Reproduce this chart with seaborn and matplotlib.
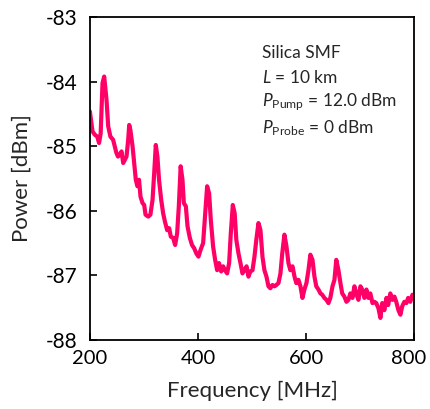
import matplotlib
matplotlib.use("Agg")
import matplotlib.pyplot as plt
import matplotlib.transforms as mtransforms
import seaborn as sns
import pandas as pd

# spectrum
freq_mhz = [200, 204.9, 209, 213.6, 217, 220, 223.4, 226.5, 230.8, 233.9, 238, 243, 246, 249, 252,
            255.5, 258.6, 261.7, 264.7, 267.8, 270.9, 272.8, 275, 279, 282, 285, 288, 291, 293.7,
            297.4, 300.5, 303, 308, 312, 316, 319, 322, 325, 328, 332, 335.6, 339, 343, 346.7,
            349.8, 354, 357.8, 361.5, 364.6, 368, 371.4, 373.9, 377.6, 380.7, 385, 389, 393, 397,
            401, 404.7, 409.6, 413, 417, 420.7, 423.8, 428, 431.8, 435.5, 439, 443, 446.6, 450,
            454, 457.7, 460.8, 464.5, 468, 471, 475, 478.7, 482.4, 486, 490, 493.5, 497, 501,
            504.6, 508, 512, 515.7, 519.4, 523, 526.8, 530.5, 534, 537.9, 541.6, 545, 549, 552.7,
            556, 560, 563.8, 567.5, 571, 575, 578.7, 582, 586, 589.7, 593.4, 597, 600.8, 604.5,
            608, 612, 615.6, 619, 623, 626.7, 630, 634, 637.8, 641.5, 645, 649, 652.6, 656, 660,
            663.7, 667, 671, 674.8, 678.5, 682, 686, 689.6, 693, 697, 700.7, 704, 708, 711.8,
            715.5, 719, 723, 726.6, 730, 734, 737.7, 741, 745, 748.8, 752, 756, 759.9, 763.6,
            767, 771, 774.7, 778, 782, 785.8, 789, 793, 797, 800]
power_dbm = [-84.46, -84.77, -84.82, -84.85, -84.95, -84.80, -84.02, -83.92, -84.28, -84.69, -84.85,
             -84.90, -85.00, -85.10, -85.16, -85.13, -85.08, -85.26, -85.21, -85.16, -84.90, -84.67,
             -84.75, -85.00, -85.26, -85.52, -85.62, -85.52, -85.78, -85.88, -85.91, -86.06, -86.09,
             -86.06, -85.83, -85.42, -84.98, -85.16, -85.52, -85.83, -86.04, -86.17, -86.30, -86.27,
             -86.40, -86.42, -86.53, -86.35, -85.93, -85.31, -85.52, -85.88, -85.93, -86.24, -86.42,
             -86.53, -86.58, -86.66, -86.71, -86.61, -86.50, -86.09, -85.62, -85.73, -86.14, -86.55,
             -86.76, -86.92, -86.81, -86.94, -86.86, -86.92, -86.97, -86.81, -86.35, -85.91, -86.04,
             -86.45, -86.66, -86.81, -86.97, -86.92, -86.86, -87.02, -86.94, -86.92, -86.71, -86.45,
             -86.19, -86.30, -86.71, -86.92, -87.02, -87.17, -87.20, -87.15, -87.17, -87.15, -87.12,
             -86.97, -86.66, -86.37, -86.55, -86.81, -86.92, -86.86, -87.02, -87.12, -87.07, -87.17,
             -87.35, -87.22, -87.12, -86.92, -86.68, -86.76, -87.02, -87.17, -87.22, -87.28, -87.30,
             -87.35, -87.38, -87.43, -87.35, -87.17, -87.07, -86.76, -86.92, -87.12, -87.28, -87.33,
             -87.41, -87.38, -87.28, -87.35, -87.17, -87.28, -87.38, -87.17, -87.22, -87.35, -87.22,
             -87.35, -87.28, -87.43, -87.41, -87.43, -87.51, -87.66, -87.43, -87.54, -87.35, -87.46,
             -87.28, -87.38, -87.33, -87.41, -87.54, -87.61, -87.48, -87.41, -87.43, -87.35, -87.41,
             -87.30, -87.35]
x_ticks = [200, 400, 600, 800]
y_ticks = [-88, -87, -86, -85, -84, -83]
notes = ["Silica SMF", "$\\mathit{L}$ = 10 km",
         "$\\mathit{P}_{\\mathrm{Pump}}$ = 12.0 dBm", "$\\mathit{P}_{\\mathrm{Probe}}$ = 0 dBm"]

sns.set_style("ticks")
plt.rcParams["font.family"] = ["Lato", "DejaVu Sans"]
plt.rcParams["mathtext.fontset"] = "custom"
plt.rcParams["mathtext.rm"] = "Lato"
plt.rcParams["mathtext.it"] = "Lato:italic"
plt.rcParams["axes.unicode_minus"] = False

df = pd.DataFrame({"freq": freq_mhz, "power": power_dbm})

fig = plt.figure(figsize=(4.3, 4.09), dpi=100)
ax = fig.add_axes([0.209, 0.169, 0.754, 0.789])
sns.lineplot(data=df, x="freq", y="power", color="#ff0066", linewidth=3.0, ax=ax)

ax.set_xlim(200, 800)
ax.set_ylim(-88, -83)
ax.set_xticks(x_ticks)
ax.set_yticks(y_ticks)
ax.tick_params(direction="in", length=5, width=1.2, labelsize=15, colors="black")
ax.tick_params(axis="x", pad=7, labelsize=14.5)
ax.tick_params(axis="y", pad=9)
for s in ax.spines.values():
    s.set_linewidth(1.3)
    s.set_color("black")
ax.set_xlabel("Frequency [MHz]", fontsize=16, labelpad=10)
ax.set_ylabel("Power [dBm]", fontsize=16, labelpad=10)

# keep the last x label inside the canvas
last = ax.get_xticklabels()[-1]
last.set_transform(last.get_transform() + mtransforms.ScaledTranslation(-4 / 72, 0, fig.dpi_scale_trans))

ys = [0.889, 0.812, 0.735, 0.657]
for t, y in zip(notes, ys):
    ax.text(0.531, y, t, transform=ax.transAxes, fontsize=12.5, va="center", ha="left")

fig.savefig("out.png", dpi=100)
